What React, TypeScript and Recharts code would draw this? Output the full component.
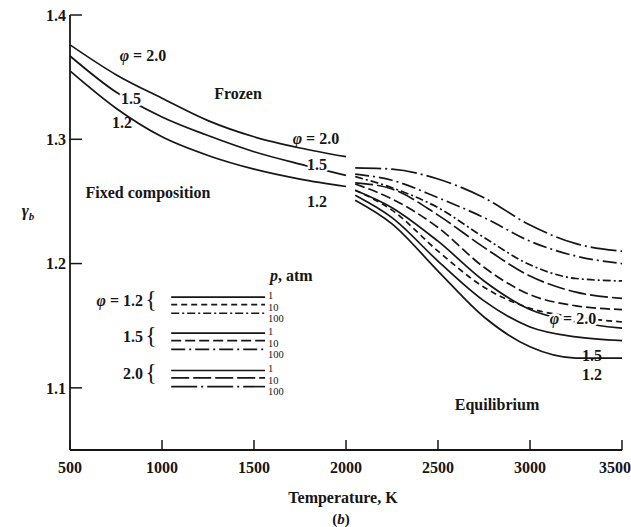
import { LineChart, Line, XAxis, YAxis, ReferenceLine } from 'recharts';

const serif = '"Liberation Serif", "DejaVu Serif", serif';
const ink = '#161616';

// temperatures, K
const tempTicks = [500, 1000, 1500, 2000, 2500, 3000, 3500];
const gammaTicks = [1.1, 1.2, 1.3, 1.4];

// frozen (fixed composition) curves
const frozenTemps = [500, 750, 1000, 1250, 1500, 1750, 2000];
const frozenPhi20 = [1.376, 1.352, 1.333, 1.315, 1.302, 1.293, 1.286];
const frozenPhi15 = [1.367, 1.338, 1.318, 1.303, 1.29, 1.28, 1.271];
const frozenPhi12 = [1.355, 1.325, 1.302, 1.287, 1.276, 1.268, 1.262];

// equilibrium curves, by phi and pressure (atm)
const eqTemps = [2050, 2250, 2500, 2750, 3000, 3250, 3500];
const eqPhi20p100 = [1.277, 1.276, 1.268, 1.253, 1.231, 1.216, 1.21];
const eqPhi15p100 = [1.272, 1.267, 1.253, 1.237, 1.218, 1.206, 1.2];
const eqPhi12p100 = [1.27, 1.261, 1.245, 1.221, 1.199, 1.188, 1.186];
const eqPhi20p10 = [1.265, 1.26, 1.239, 1.213, 1.19, 1.177, 1.172];
const eqPhi15p10 = [1.264, 1.252, 1.229, 1.197, 1.175, 1.166, 1.163];
const eqPhi12p10 = [1.259, 1.243, 1.21, 1.181, 1.164, 1.157, 1.153];
const eqPhi20p1 = [1.259, 1.245, 1.218, 1.186, 1.163, 1.153, 1.148];
const eqPhi15p1 = [1.255, 1.237, 1.202, 1.17, 1.149, 1.141, 1.138];
const eqPhi12p1 = [1.251, 1.232, 1.194, 1.157, 1.133, 1.124, 1.124];

// legend keys
const legendPhis = ['1.2', '1.5', '2.0'];
const legendPressures = ['1', '10', '100'];
const legendKeyLevels = [
  [1.173, 1.167, 1.16],
  [1.144, 1.138, 1.131],
  [1.114, 1.108, 1.101],
];
const legendKeyFrom = 1050;
const legendKeyTo = 1560;

// dash style per phi (rows) and pressure (cols)
const dashes = [
  [undefined, '6 4', '8 3 2 3'],
  [undefined, '10 4', '14 4 2 4'],
  [undefined, '18 4', '26 4 2 4'],
];

const rows = (temps: number[], vals: number[]) => temps.map((t, i) => ({ t, g: vals[i] }));

const curves = [
  { id: 'fz20', data: rows(frozenTemps, frozenPhi20), dash: undefined },
  { id: 'fz15', data: rows(frozenTemps, frozenPhi15), dash: undefined },
  { id: 'fz12', data: rows(frozenTemps, frozenPhi12), dash: undefined },
  { id: 'eq20-100', data: rows(eqTemps, eqPhi20p100), dash: dashes[2][2] },
  { id: 'eq15-100', data: rows(eqTemps, eqPhi15p100), dash: dashes[1][2] },
  { id: 'eq12-100', data: rows(eqTemps, eqPhi12p100), dash: dashes[0][2] },
  { id: 'eq20-10', data: rows(eqTemps, eqPhi20p10), dash: dashes[2][1] },
  { id: 'eq15-10', data: rows(eqTemps, eqPhi15p10), dash: dashes[1][1] },
  { id: 'eq12-10', data: rows(eqTemps, eqPhi12p10), dash: dashes[0][1] },
  { id: 'eq20-1', data: rows(eqTemps, eqPhi20p1), dash: undefined },
  { id: 'eq15-1', data: rows(eqTemps, eqPhi15p1), dash: undefined },
  { id: 'eq12-1', data: rows(eqTemps, eqPhi12p1), dash: undefined },
];

const halo = { stroke: '#fff', strokeWidth: 5, paintOrder: 'stroke' as const };

const Phi = ({ x, y, value, anchor = 'middle', withHalo = false }: any) => (
  <text x={x} y={y} textAnchor={anchor} fontSize={16} fontWeight="bold" fill={ink} {...(withHalo ? halo : {})}>
    <tspan fontStyle="italic">φ</tspan> = {value}
  </text>
);

const Lbl = ({ x, y, children, withHalo = false, anchor = 'middle', size = 16 }: any) => (
  <text x={x} y={y} textAnchor={anchor} fontSize={size} fontWeight="bold" fill={ink} {...(withHalo ? halo : {})}>
    {children}
  </text>
);

const groupY = [297, 333, 370];

export default function App() {
  return (
    <div style={{ position: 'absolute', left: 0, top: 0, width: 631, height: 527, background: '#fff' }}>
      <LineChart width={631} height={527} margin={{ top: 15, right: 9, bottom: 0, left: 0 }}>
        <XAxis
          xAxisId="b"
          type="number"
          dataKey="t"
          domain={[500, 3500]}
          ticks={tempTicks}
          allowDataOverflow
          height={77}
          tickSize={-10}
          tickMargin={22}
          axisLine={{ stroke: ink, strokeWidth: 1.8 }}
          tickLine={{ stroke: ink, strokeWidth: 1.5 }}
          tick={{ fill: ink, fontSize: 16, fontFamily: serif, fontWeight: 'bold' }}
        />
        <XAxis
          xAxisId="t"
          orientation="top"
          type="number"
          dataKey="t"
          domain={[500, 3500]}
          ticks={tempTicks}
          height={0}
          tickSize={-10}
          tickFormatter={() => ''}
          axisLine={{ stroke: ink, strokeWidth: 1.8 }}
          tickLine={{ stroke: ink, strokeWidth: 1.5 }}
        />
        <YAxis
          yAxisId="l"
          type="number"
          domain={[1.05, 1.4]}
          ticks={gammaTicks}
          allowDataOverflow
          width={70}
          tickSize={-12}
          tickMargin={16}
          tickFormatter={(v: number) => v.toFixed(1)}
          axisLine={{ stroke: ink, strokeWidth: 1.8 }}
          tickLine={{ stroke: ink, strokeWidth: 1.5 }}
          tick={{ fill: ink, fontSize: 16, fontFamily: serif, fontWeight: 'bold' }}
        />
        <YAxis
          yAxisId="r"
          orientation="right"
          type="number"
          domain={[1.05, 1.4]}
          ticks={gammaTicks}
          width={0}
          tickSize={-12}
          tickFormatter={() => ''}
          axisLine={{ stroke: ink, strokeWidth: 1.8 }}
          tickLine={{ stroke: ink, strokeWidth: 1.5 }}
        />
        {curves.map((c) => (
          <Line
            key={c.id}
            xAxisId="b"
            yAxisId="l"
            data={c.data}
            dataKey="g"
            type="monotone"
            stroke={ink}
            strokeWidth={1.7}
            strokeDasharray={c.dash}
            dot={false}
            activeDot={false}
            isAnimationActive={false}
          />
        ))}
        {legendKeyLevels.map((levels, i) =>
          levels.map((lv, j) => (
            <ReferenceLine
              key={`k${i}${j}`}
              xAxisId="b"
              yAxisId="l"
              segment={[{ x: legendKeyFrom, y: lv }, { x: legendKeyTo, y: lv }]}
              stroke={ink}
              strokeWidth={1.6}
              strokeDasharray={dashes[i][j]}
              ifOverflow="visible"
            />
          ))
        )}
      </LineChart>
      <svg width={631} height={527} style={{ position: 'absolute', left: 0, top: 0, pointerEvents: 'none' }} fontFamily={serif}>
        {/* frozen */}
        <Phi x={143} y={61} value="2.0" />
        <Lbl x={238} y={99}>Frozen</Lbl>
        <Lbl x={131} y={104} withHalo>1.5</Lbl>
        <Lbl x={122} y={128}>1.2</Lbl>
        <Phi x={316} y={144} value="2.0" />
        <Lbl x={317} y={170} withHalo>1.5</Lbl>
        <Lbl x={317} y={207}>1.2</Lbl>
        <Lbl x={148} y={198}>Fixed composition</Lbl>
        {/* equilibrium */}
        <Phi x={573} y={324} value="2.0" withHalo />
        <Lbl x={592} y={361}>1.5</Lbl>
        <Lbl x={592} y={380}>1.2</Lbl>
        <Lbl x={497} y={410}>Equilibrium</Lbl>
        {/* legend */}
        <text x={270} y={281} fontSize={16} fontWeight="bold" fill={ink}>
          <tspan fontStyle="italic">p</tspan>, atm
        </text>
        {legendPhis.map((phi, i) => (
          <g key={phi}>
            {i === 0 ? (
              <Phi x={143} y={groupY[i] + 9} value={phi} anchor="end" />
            ) : (
              <Lbl x={143} y={groupY[i] + 9} anchor="end">{phi}</Lbl>
            )}
            <text x={151} y={groupY[i] + 10} textAnchor="middle" fontSize={24} fill={ink}>{'{'}</text>
            {legendPressures.map((p, j) => (
              <text key={p} x={268} y={groupY[i] + 2 + j * 11.5} fontSize={10.5} fill={ink}>{p}</text>
            ))}
          </g>
        ))}
        {/* axis titles */}
        <text x={28} y={216} textAnchor="middle" fontSize={17} fontWeight="bold" fill={ink}>
          <tspan fontStyle="italic">γ</tspan>
          <tspan fontSize={11} fontStyle="italic" dy={4}>b</tspan>
        </text>
        <text x={343} y={503} textAnchor="middle" fontSize={16} fontWeight="bold" fill={ink}>Temperature, K</text>
        <text x={341} y={524} textAnchor="middle" fontSize={15} fontWeight="bold" fill={ink}>
          (<tspan fontStyle="italic">b</tspan>)
        </text>
      </svg>
    </div>
  );
}
